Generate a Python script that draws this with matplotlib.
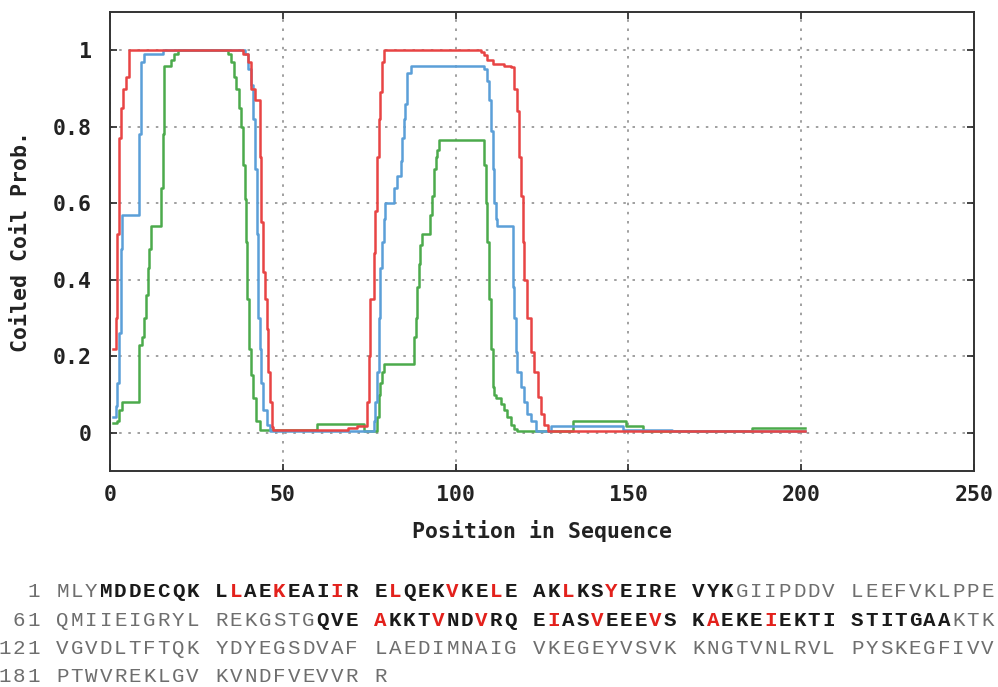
import numpy as np
import matplotlib
matplotlib.use("Agg")
import matplotlib.pyplot as plt

# COILS output: step change points (residue, probability)
red_pos = [1, 1.6, 2.1, 2.6, 3.1, 3.8, 4.6, 5.6,
           38.5, 39.9, 40.9, 41.9, 43.3, 43.8, 44.3, 44.8, 45.3, 45.8, 46.3, 46.8, 47.3,
           69, 71.4, 74.3, 74.8, 75.3, 76.3, 76.7, 77.2, 77.7, 78.2, 78.7, 79.2,
           107.3, 108.2, 109.2, 110.7, 114.0, 116.0, 116.9, 117.9, 118.4, 118.9, 119.4,
           119.9, 120.8, 121.8, 122.8, 123.7, 124.7, 125.7, 126.7, 201]
red_val = [0.22, 0.30, 0.52, 0.77, 0.85, 0.90, 0.93, 1.0,
           0.99, 0.97, 0.90, 0.87, 0.72, 0.55, 0.42, 0.35, 0.27, 0.16, 0.08, 0.015, 0.008,
           0.013, 0.018, 0.08, 0.20, 0.35, 0.47, 0.58, 0.72, 0.82, 0.89, 0.97, 1.0,
           0.995, 0.987, 0.975, 0.965, 0.96, 0.955, 0.90, 0.84, 0.72, 0.62, 0.50,
           0.40, 0.30, 0.21, 0.16, 0.094, 0.05, 0.02, 0.005, 0.005]

blue_pos = [1, 1.6, 2.1, 2.6, 3.1, 3.6, 8.4, 8.9, 9.9, 15.2,
            39, 39.9, 40.9, 41.4, 41.9, 42.4, 42.8, 43.3, 43.8, 44.3, 45.3, 46.3,
            76.3, 76.8, 77.2, 77.7, 78.2, 78.7, 79.2, 79.7, 82.1, 83.1, 84.1, 84.5,
            85.0, 85.5, 86.0, 87.0,
            108.2, 109.2, 109.7, 110.2, 110.7, 111.1, 111.6, 112.1, 116.5, 116.9, 117.4,
            117.9, 118.9, 119.9, 120.8, 121.8, 123.3,
            127.5, 148.5, 162.5, 201]
blue_val = [0.04, 0.07, 0.13, 0.26, 0.48, 0.57, 0.78, 0.97, 0.99, 1.0,
            0.99, 0.95, 0.91, 0.82, 0.69, 0.52, 0.30, 0.22, 0.13, 0.06, 0.02, 0.005,
            0.03, 0.08, 0.16, 0.30, 0.43, 0.50, 0.56, 0.60, 0.64, 0.67, 0.71, 0.77,
            0.82, 0.86, 0.94, 0.96,
            0.95, 0.92, 0.87, 0.79, 0.69, 0.60, 0.56, 0.54, 0.38, 0.30, 0.21,
            0.16, 0.12, 0.08, 0.05, 0.03, 0.005,
            0.018, 0.008, 0.004, 0.004]

green_pos = [1, 2.1, 2.6, 3.6, 8.4, 9.4, 9.9, 10.4, 10.9, 11.3, 11.8, 14.7, 15.2, 15.7,
             17.6, 18.6, 19.6,
             34.1, 35.1, 35.8, 36.5, 37.3, 38.0, 38.5, 39.0, 39.4, 39.7, 40.2, 40.9, 41.4,
             42.3, 43.3,
             59.8, 73.6, 77.2, 77.7, 78.2, 78.7, 79.2,
             87.9, 88.4, 88.9, 89.4, 89.8, 90.3, 92.7, 93.2, 93.7, 94.2, 94.7, 95.2,
             108.2, 108.7, 109.2, 109.7, 110.2, 110.7, 111.2, 111.6, 113.1, 114.0, 115.0,
             116.0, 117.0, 117.9,
             133.9, 149.4, 154.3, 185.8, 201]
green_val = [0.025, 0.03, 0.06, 0.08, 0.23, 0.25, 0.30, 0.36, 0.43, 0.48, 0.54, 0.64, 0.78, 0.96,
             0.975, 0.99, 1.0,
             0.99, 0.97, 0.93, 0.90, 0.85, 0.80, 0.70, 0.61, 0.50, 0.35, 0.22, 0.15, 0.09,
             0.03, 0.006,
             0.022, 0.005, 0.04, 0.10, 0.13, 0.16, 0.18,
             0.25, 0.30, 0.38, 0.44, 0.49, 0.52, 0.57, 0.62, 0.69, 0.72, 0.74, 0.765,
             0.70, 0.60, 0.50, 0.35, 0.22, 0.12, 0.10, 0.09, 0.075, 0.06, 0.04,
             0.02, 0.01, 0.005,
             0.032, 0.018, 0.005, 0.012, 0.012]

# sequence shown under the plot
sequence = ("MLYMDDECQKLLAEKEAIIRELQEKVKELEAKLKSYEIREVYKGIIPDDVLEEFVKLPPE"
            "QMIIEIGRYLREKGSTGQVEAKKTVNDVRQEIASVEEEVSKAEKEIEKTISTITGAAKTK"
            "VGVDLTFTQKYDYEGSDVAFLAEDIMNAIGVKEGEYVSVKKNGTVNLRVLPYSKEGFIVV"
            "PTWVREKLGVKVNDFVEVVRR")
bold_ranges = [(4, 43), (78, 117)]
red_residues = [12, 15, 19, 22, 26, 29, 33, 36, 81, 85, 88, 92, 95, 99, 102, 106]

W, H = 998, 687
fig = plt.figure(figsize=(W / 100, H / 100), dpi=100)
ax = fig.add_axes([110 / W, 1 - 471 / H, (974 - 110) / W, (471 - 12) / H])

ax.plot(green_pos, green_val, drawstyle='steps-post', color='#4caa4c', lw=1.8)
ax.plot(blue_pos, blue_val, drawstyle='steps-post', color='#5b9fd8', lw=1.8)
ax.plot(red_pos, red_val, drawstyle='steps-post', color='#e84444', lw=1.8)

ax.set_xlim(0, 250)
ax.set_ylim(-0.1, 1.1)
ax.set_xticks([0, 50, 100, 150, 200, 250])
ax.set_yticks([0, 0.2, 0.4, 0.6, 0.8, 1])
ax.set_yticklabels(['0', '0.2', '0.4', '0.6', '0.8', '1'])
ax.grid(True, linestyle=(0, (1.5, 4)), color='#909090', lw=1.2)
ax.tick_params(direction='in', top=True, right=True, length=5, width=1.2,
               labelsize=15.5, colors='#222222')
ax.tick_params(axis='y', pad=13)
ax.tick_params(axis='x', pad=10)
for lab in ax.get_xticklabels() + ax.get_yticklabels():
    lab.set_family('DejaVu Sans Mono')
    lab.set_weight('bold')
for s in ax.spines.values():
    s.set_linewidth(1.4)
    s.set_color('#333333')

ax.set_xlabel('Position in Sequence', family='DejaVu Sans Mono', weight='bold',
              fontsize=15.5, labelpad=11, color='#222222')
ax.set_ylabel('Coiled Coil Prob.', family='DejaVu Sans Mono', weight='bold',
              fontsize=15.5, labelpad=16, color='#222222')

# sequence block, one character per monospace cell
cw = 14.45
x0 = -2.5
row_y = [591.5, 620, 648.5, 677]
for r in range(4):
    start = r * 60
    line = "%3d " % (start + 1)
    styles = ['n'] * 4
    for k in range(start, min(start + 60, len(sequence))):
        if k > start and (k - start) % 10 == 0:
            line += ' '
            styles.append('n')
        line += sequence[k]
        resnum = k + 1
        if resnum in red_residues:
            styles.append('r')
        elif any(a <= resnum <= b for a, b in bold_ranges):
            styles.append('b')
        else:
            styles.append('g')
    for i, ch in enumerate(line):
        if ch == ' ':
            continue
        st = styles[i]
        if st == 'r':
            col, wt = '#e3211c', 'bold'
        elif st == 'b':
            col, wt = '#1a1a1a', 'bold'
        else:
            col, wt = '#6e6e6e', 'normal'
        fig.text((x0 + (i + 0.5) * cw) / W, 1 - row_y[r] / H, ch, ha='center', va='center',
                 family='Liberation Mono', fontsize=15, weight=wt, color=col)

fig.savefig('out.png', dpi=100)
